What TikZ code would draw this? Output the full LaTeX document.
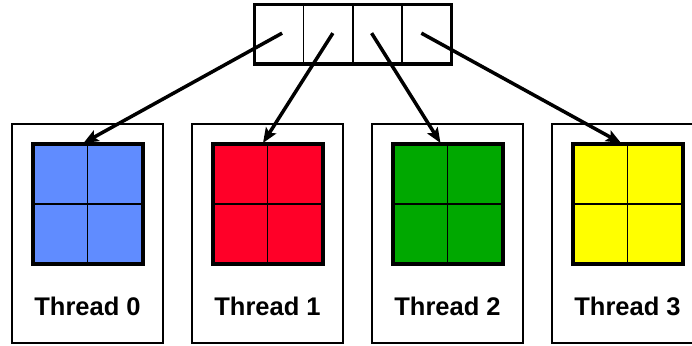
\documentclass[tikz,border=0pt]{standalone}
\usepackage{fontspec}
\setmainfont{Liberation Sans}
\usetikzlibrary{arrows.meta,calc}
\definecolor{tileblue}{RGB}{96,140,255}
\definecolor{tilered}{RGB}{255,0,40}
\definecolor{tilegreen}{RGB}{0,168,0}
\definecolor{tileyellow}{RGB}{255,255,0}
\begin{document}
\begin{tikzpicture}[x=1pt,y=-1pt,
  threadbox/.style={draw=black, line width=1.5pt, minimum width=151pt, minimum height=219pt, inner sep=0pt, outer sep=0pt},
  tile/.style={draw=black, line width=4pt, minimum width=110pt, minimum height=120pt, inner sep=0pt, outer sep=0pt},
  cell/.style={draw=black, line width=1.5pt, minimum width=49.25pt, minimum height=59.7pt, inner sep=0pt, outer sep=0pt},
  tilegrid/.style={draw=black, line width=1.5pt},
  threadname/.style={font=\bfseries\fontsize{25.5}{30}\selectfont, anchor=base, inner sep=0pt},
  ptr/.style={line width=3.5pt, -{Stealth[length=15pt,width=12pt,inset=3pt]}}
]
\clip (0,0) rectangle (692,345);
\useasboundingbox (0,0) rectangle (692,345);

% one box per thread, each holding a 2x2 tile
\foreach \k/\col in {0/tileblue,1/tilered,2/tilegreen,3/tileyellow}{
  \node[threadbox] (t\k) at (87.5+180*\k,233.5) {};
  \node[tile, fill=\col] (s\k) at (87.5+180*\k,204) {};
  \draw[tilegrid] (s\k.north) -- (s\k.south);
  \draw[tilegrid] (s\k.west) -- (s\k.east);
  \node[threadname] (n\k) at (87.5+180*\k,315) {Thread \k};
}

% shared array of four cells
\foreach \k in {0,1,2,3}{
  \node[cell] (c\k) at (279.1+49.25*\k,34.15) {};
}
\draw[line width=3.3pt] (c0.north west) rectangle (c3.south east);

% pointers from the cells to the tiles
\coordinate (a0) at ($(c0.center)+(3,-1)$);
\coordinate (a1) at ($(c1.center)+(4.5,-1)$);
\coordinate (a2) at ($(c2.center)+(-6,-1)$);
\coordinate (a3) at ($(c3.center)+(-5.5,-1)$);
\coordinate (b0) at ($(s0.north)+(-4,-1)$);
\coordinate (b1) at ($(s1.north)+(-4.5,-1)$);
\coordinate (b2) at ($(s2.north)+(-7,-1)$);
\coordinate (b3) at ($(s3.north)+(-6.5,-1)$);
\foreach \k in {0,1,2,3}{
  \draw[ptr] (a\k) -- (b\k);
}
\end{tikzpicture}
\end{document}
